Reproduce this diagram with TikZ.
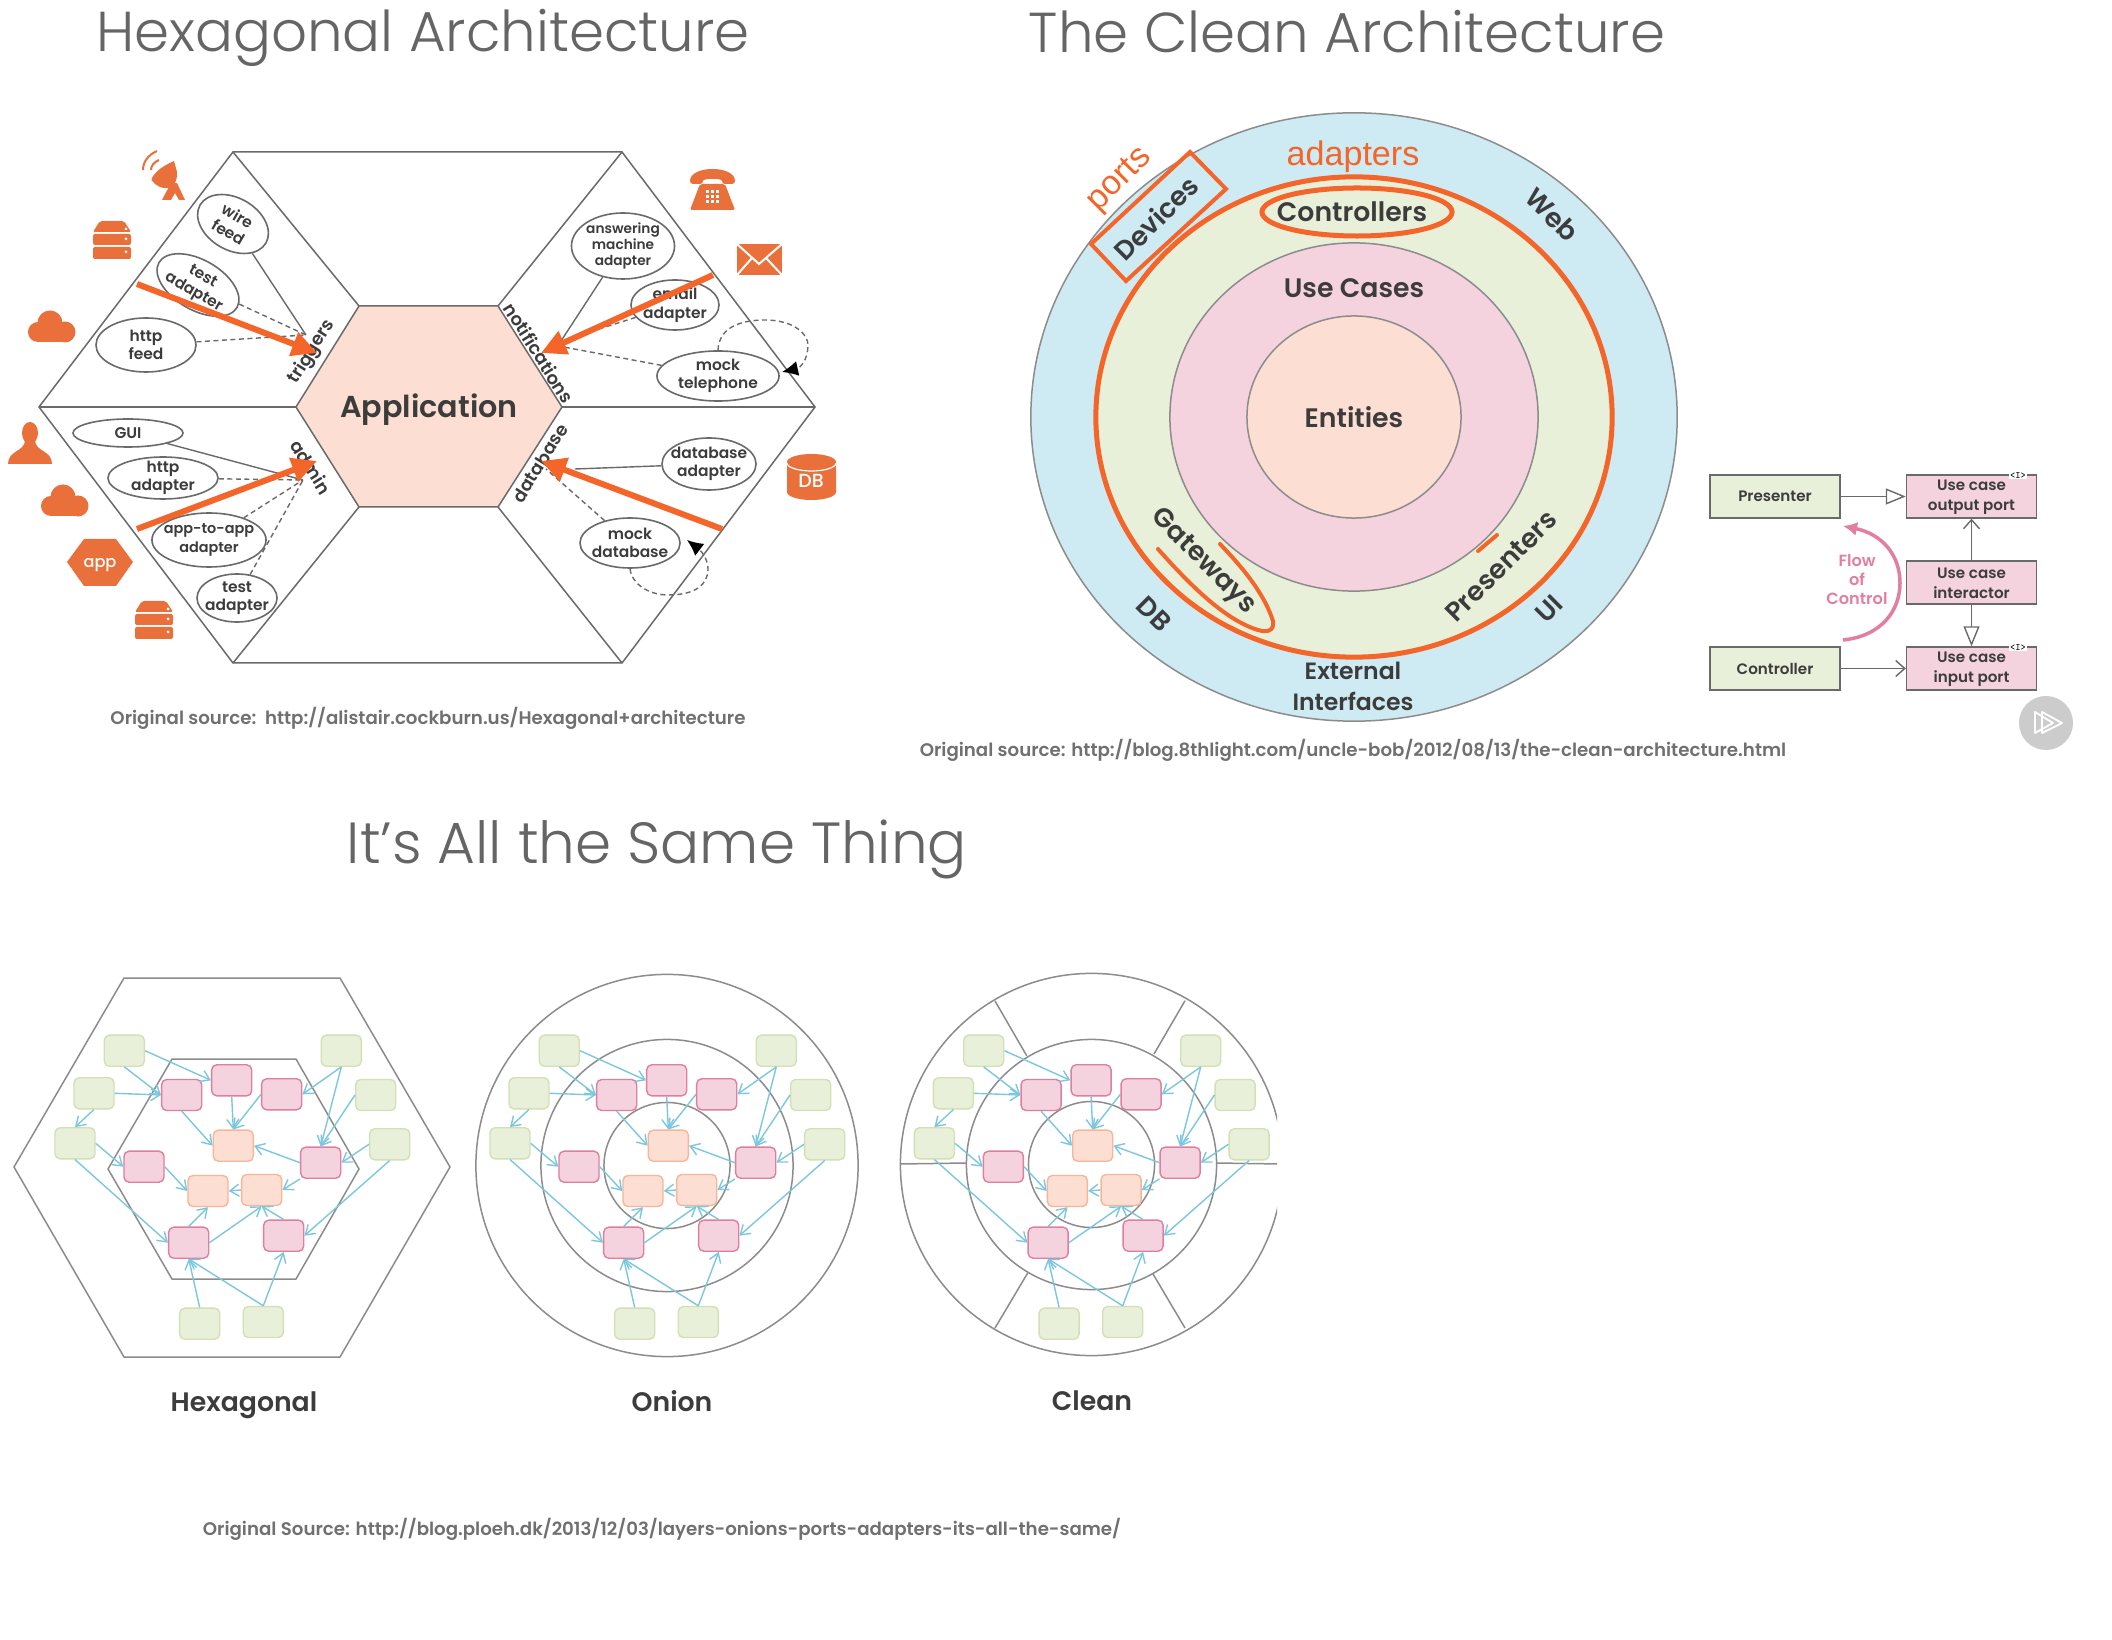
\documentclass[tikz,border=0pt]{standalone}
\usepackage{fontspec}
\setmainfont{Poppins}[UprightFont=* Medium, BoldFont=* SemiBold]
\newfontfamily\titlefont{Poppins}[UprightFont=* Light]
\newfontfamily\arialfont{Liberation Sans}
\usetikzlibrary{arrows.meta}
\usetikzlibrary{shapes.geometric}
\definecolor{icono}{HTML}{E9703A}
\definecolor{hotline}{HTML}{F4652A}
\definecolor{inkdark}{HTML}{3C3C3C}
\definecolor{inkgrey}{HTML}{707070}
\definecolor{wirefg}{HTML}{6A6A6A}
\definecolor{ringline}{HTML}{8C8C8C}
\definecolor{coreo}{HTML}{FCDFD2}
\definecolor{gfill}{HTML}{E9F0DA}
\definecolor{gline}{HTML}{D3E0B4}
\definecolor{pfill}{HTML}{F4D3DF}
\definecolor{pline}{HTML}{DD7F9F}
\definecolor{ofill}{HTML}{FCDFD2}
\definecolor{oline}{HTML}{F5B797}
\definecolor{skyfill}{HTML}{CEEAF3}
\definecolor{arrowsky}{HTML}{7CC7DF}
\definecolor{flowpink}{HTML}{E27F9F}
\tikzstyle{bigtitle}=[font=\titlefont\fontsize{16}{18}\selectfont, text=inkgrey!90!black]
\tikzstyle{source}=[font=\bfseries\fontsize{5.18}{6}\selectfont, text=inkgrey]
\tikzstyle{port}=[ellipse, draw=wirefg, line width=.016cm, fill=white, inner sep=-.06cm,
                    align=center, text=inkdark, font=\bfseries\fontsize{4.4}{5.2}\selectfont]
\tikzstyle{side}=[font=\bfseries\fontsize{5.1}{6}\selectfont, text=inkdark]
\tikzstyle{wire}=[draw=wirefg, line width=.014cm]
\tikzstyle{dwire}=[draw=wirefg, line width=.014cm, dash pattern=on .05cm off .035cm]
\tikzstyle{hot}=[draw=hotline, line width=.06cm, -{Triangle[length=.25cm,width=.24cm]}]
\tikzstyle{ring}=[draw=ringline, line width=.015cm]
\tikzstyle{edgeo}=[draw=hotline, line width=.05cm]
\tikzstyle{layer}=[font=\bfseries\fontsize{7.6}{9}\selectfont, text=inkdark]
\tikzstyle{umlg}=[rectangle, draw=wirefg, line width=.014cm, fill=gfill, minimum width=1.3cm,
                    minimum height=.43cm, align=center, inner sep=0pt, text=inkdark,
                    font=\bfseries\fontsize{4.3}{5.6}\selectfont]
\tikzstyle{umlp}=[umlg, fill=pfill, execute at begin node={\rule{0pt}{9pt}}]
\tikzstyle{gbox}=[rectangle, rounded corners=.05cm, draw=gline, line width=.014cm, fill=gfill,
                    minimum width=.4cm, minimum height=.31cm]
\tikzstyle{pbox}=[gbox, draw=pline, fill=pfill]
\tikzstyle{obox}=[gbox, draw=oline, fill=ofill]
\tikzstyle{flow}=[draw=arrowsky, line width=.014cm, -{Straight Barb[length=.09cm,width=.12cm]}]
\tikzstyle{capt}=[font=\bfseries\fontsize{7.6}{9}\selectfont, text=inkdark]
\newcommand{\archgraph}{
    \foreach \nm/\px/\py in {g1/124.3/1050.7, g2/94/1093.3, g3/75/1143.3, g4/341.3/1050.7,
          g5/375.7/1095, g6/389.7/1144.3, g7/199.7/1323.7, g8/263.3/1322}
      \node[gbox] (\nm) at (\px,\py) {};
    \foreach \nm/\px/\py in {p1/181.7/1095, p2/231.7/1080.3, p3/281.7/1094.3, p4/144/1166.7,
          p5/320.7/1162.7, p6/188.7/1242.7, p7/283.7/1235.7}
      \node[pbox] (\nm) at (\px,\py) {};
    \foreach \nm/\px/\py in {o1/233.3/1145.7, o2/208/1191, o3/261.7/1190}
      \node[obox] (\nm) at (\px,\py) {};
    \foreach \from/\to in {g1.east/p2.west, g1.south/p1.west, g2.east/p1.west, g2.south/g3.north,
          g3.east/p4.west, g3.south/p6.west, p1.south/o1.west, p2.south/o1.north,
          p3.west/o1.north, p4.east/o2.west, p5.west/o1.east, p5.south west/o3.east,
          o3.west/o2.east, p6.north/o2.south, p6.east/o3.south, p7.north/o3.south,
          g4.south/p3.east, g4.south/p5.north, g5.west/p5.north, g6.west/p5.east,
          g6.south/p7.east, g7.north/p6.south, g8.north/p6.south, g8.north/p7.south}
      \draw[flow] (\from) -- (\to);
}
\begin{document}
\begin{tikzpicture}[x=.01cm, y=-.01cm]
    \useasboundingbox[fill=white] (0,0) rectangle (2112,1640);
    \node[bigtitle] (title1) at (423,38) {Hexagonal Architecture};
    \node[bigtitle] (title2) at (1347,32) {The Clean Architecture};
    \node[bigtitle, font=\titlefont\fontsize{16.5}{18}\selectfont] (title3) at (657,849) {It’s All the Same Thing};
    \node[source] (src1) at (428,718) {Original source:\ \ http://alistair.cockburn.us/Hexagonal+architecture};
    \node[source] (src2) at (1353,750) {Original source: http://blog.8thlight.com/uncle-bob/2012/08/13/the-clean-architecture.html};
    \node[source] (src3) at (662,1529) {Original Source: http://blog.ploeh.dk/2013/12/03/layers-onions-ports-adapters-its-all-the-same/};
    % hexagonal, big one
    \foreach \nm/\px/\py in {a1/233/152, a2/622/152, a3/815/407, a4/622/663, a5/233/663, a6/39/407,
          b1/359/306, b2/498/306, b3/562/407, b4/498/507, b5/359/507, b6/296/407}
      \coordinate (\nm) at (\px,\py);
    \draw[ring, draw=wirefg] (a1) -- (a2) -- (a3) -- (a4) -- (a5) -- (a6) -- cycle;
    \foreach \to/\from in {a1/b1, a2/b2, a3/b3, a4/b4, a5/b5, a6/b6}
      \draw[ring, draw=wirefg] (\to) -- (\from);
    \draw[ring, draw=wirefg, fill=coreo] (b1) -- (b2) -- (b3) -- (b4) -- (b5) -- (b6) -- cycle;
    \node[font=\bfseries\fontsize{8.6}{10}\selectfont, text=inkdark] (app) at (429,410) {Application};
    \coordinate (hubt) at (306,335);
    \coordinate (hubn) at (561,341);
    \coordinate (hubn2) at (553,345);
    \coordinate (huba) at (303,480);
    \coordinate (hubd) at (575,469);
    \coordinate (hubd2) at (546,469);
    \node[port, minimum width=.76cm, minimum height=.52cm, rotate=-30] (wirefeed) at (233,224) {wire\\feed};
    \node[port, minimum width=.9cm, minimum height=.5cm, rotate=-30] (testa) at (198,285) {test\\adapter};
    \node[port, minimum width=1cm, minimum height=.54cm] (httpf) at (146,345) {http\\feed};
    \node[port, minimum width=1.03cm, minimum height=.66cm, font=\bfseries\fontsize{3.9}{4.6}\selectfont] (answer) at (623,246) {answering\\machine\\adapter};
    \node[port, minimum width=.88cm, minimum height=.5cm] (email) at (675,305) {email\\adapter};
    \node[port, minimum width=1.22cm, minimum height=.5cm] (mocktel) at (718,376) {mock\\telephone};
    \node[port, minimum width=1.1cm, minimum height=.28cm] (gui) at (128,433) {GUI};
    \node[port, minimum width=1.1cm, minimum height=.42cm] (httpa) at (163,478) {http\\adapter};
    \node[port, minimum width=1.14cm, minimum height=.54cm, font=\bfseries\fontsize{4.1}{5.2}\selectfont] (appapp) at (209,540) {app-to-app\\adapter};
    \node[port, minimum width=.8cm, minimum height=.48cm] (testb) at (237,598) {test\\adapter};
    \node[port, minimum width=.94cm, minimum height=.52cm] (dba) at (709,464) {database\\adapter};
    \node[port, minimum width=1cm, minimum height=.5cm] (mockdb) at (630,543) {mock\\database};
    \foreach \to/\from in {wirefeed/hubt, answer/hubn, gui/huba, dba/hubd}
      \draw[wire] (\to) -- (\from);
    \foreach \to/\from in {testa/hubt, httpf/hubt, email/hubn, mocktel/hubn2, httpa/huba,
          appapp/huba, testb/huba, mockdb/hubd2}
      \draw[dwire] (\to) -- (\from);
    \draw[dwire, -{Latex[black,length=.16cm,width=.15cm]}] (mocktel.north) .. controls (719,325) and (745,320) .. (765,320)
      .. controls (795,320) and (808,335) .. (808,345) .. controls (808,360) and (800,368) .. (782,372);
    \draw[dwire, -{Latex[black,length=.16cm,width=.15cm]}] (mockdb.south) .. controls (632,585) and (650,595) .. (668,595)
      .. controls (695,595) and (708,585) .. (708,569) .. controls (708,558) and (700,550) .. (687,540);
    \node[side, rotate=58] (ltrig) at (312,352) {triggers};
    \node[side, rotate=-58] (lnotif) at (539,353) {notifications};
    \node[side, rotate=-58] (ladmin) at (311,467) {admin};
    \node[side, rotate=58] (ldb) at (540,463) {database};
    \coordinate (h1) at (137,284);
    \coordinate (h2) at (713,275);
    \coordinate (h3) at (137,529);
    \coordinate (h4) at (722,529);
    \coordinate (t1) at (317,353);
    \coordinate (t2) at (541,353);
    \coordinate (t3) at (317,461);
    \coordinate (t4) at (541,461);
    \foreach \to/\from in {h1/t1, h2/t2, h3/t3, h4/t4}
      \draw[hot] (\to) -- (\from);
    % icons
    \foreach \px/\py in {112/240, 154/620} {
      \begin{scope}[shift={(\px,\py)}]
        \fill[icono, rounded corners=.02cm] (-19,-8) -- (-12,-19) -- (12,-19) -- (19,-8) -- cycle;
        \fill[icono, rounded corners=.02cm] (-19,-6) rectangle (19,5);
        \fill[icono, rounded corners=.02cm] (-19,7) rectangle (19,19);
        \foreach \dy in {-11,-1,12}
          \fill[white] (14,\dy) circle (.015cm);
      \end{scope}
    }
    \foreach \px/\py in {52/327, 65/501} {
      \begin{scope}[shift={(\px,\py)}]
        \fill[icono] (-14,5) circle (.1cm);
        \fill[icono] (-2,-4) circle (.125cm);
        \fill[icono] (13,5) circle (.105cm);
        \fill[icono] (-14,0) rectangle (13,15.5);
      \end{scope}
    }
    \fill[icono] (30,433) ellipse [x radius=.08cm, y radius=.11cm];
    \fill[icono] (25,440) -- (35,440) .. controls (35,452) and (52,450) .. (52,464) -- (8,464)
      .. controls (8,450) and (25,452) .. (25,440) -- cycle;
    \fill[icono] (67,562) -- (84,539) -- (116,539) -- (133,562) -- (116,586) -- (84,586) -- cycle;
    \node[font=\fontsize{4.6}{5}\selectfont, text=white] (appicon) at (100,565) {app};
    % satellite
    \fill[icono] (174,161) .. controls (160,167) and (152,175) .. (151.5,180) .. controls (160,192) and (178,192) .. (177,172) -- cycle;
    \fill[icono] (162,200) -- (171,183) -- (177,183) -- (185,200) -- (179,200) -- (175,193) -- (171,200) -- cycle;
    \draw[icono, line width=.02cm] (143,170) .. controls (143,162) and (148,155) .. (157,151);
    \draw[icono, line width=.02cm] (151,170) .. controls (151,166) and (154,162) .. (159,160);
    % telephone
    \fill[icono, rounded corners=.03cm] (690,184) .. controls (690,165) and (735,165) .. (735,184) -- (722,184)
      .. controls (722,178) and (703,178) .. (703,184) -- cycle;
    \fill[icono, rounded corners=.02cm] (700,184) -- (725,184) -- (735,210) -- (690,210) -- cycle;
    \foreach \dx in {706,711,716}
      \foreach \dy in {190,195,200}
        \fill[white] (\dx,\dy) rectangle ++(3,3);
    % mail
    \fill[icono] (737,244) rectangle (782,275);
    \draw[white, line width=.02cm] (737,244) -- (759,264) -- (782,244);
    \draw[white, line width=.02cm] (737,275) -- (752,258);
    \draw[white, line width=.02cm] (782,275) -- (766,258);
    % db drum
    \fill[icono] (787,462) -- (787,492) arc (180:360:.245cm and .08cm) -- (836,462) arc (0:180:.245cm and .08cm) -- cycle;
    \draw[white, line width=.012cm] (787,463) arc (180:360:.245cm and .08cm);
    \node[font=\fontsize{5.4}{6}\selectfont, text=white] (dbicon) at (811,481) {DB};
    % clean
    \node[ellipse, draw=ringline, line width=.015cm, fill=skyfill, minimum width=6.46cm, minimum height=6.08cm] (cweb) at (1354,417) {};
    \node[ellipse, draw=hotline, line width=.05cm, fill=gfill, minimum width=5.16cm, minimum height=4.8cm] (cuse) at (1354,417) {};
    \node[ellipse, draw=ringline, line width=.015cm, fill=pfill, minimum width=3.68cm, minimum height=3.48cm] (cmid) at (1354,417) {};
    \node[ellipse, draw=ringline, line width=.015cm, fill=coreo, minimum width=2.14cm, minimum height=2.02cm] (ccore) at (1354,417) {};
    \node[layer] (lent) at (1354,417) {Entities};
    \node[layer] (luse) at (1354,288) {Use Cases};
    \node[layer] (lctrl) at (1352,212) {Controllers};
    \node[ellipse, edgeo, minimum width=1.9cm, minimum height=.48cm] (ectrl) at (1357,212) {};
    \node[layer, rotate=45] (ldev) at (1156,218) {Devices};
    \coordinate (dv1) at (1190,152);
    \coordinate (dv2) at (1226,189);
    \coordinate (dv3) at (1126,281);
    \coordinate (dv4) at (1091,244);
    \draw[edgeo, line width=.04cm] (dv1) -- (dv2) -- (dv3) -- (dv4) -- cycle;
    \node[font=\arialfont\fontsize{9.7}{10}\selectfont, text=hotline, rotate=45] (lports) at (1120,180) {ports};
    \node[font=\arialfont\fontsize{9.7}{10}\selectfont, text=hotline] (ladapt) at (1353,157) {adapters};
    \node[layer, rotate=-45] (lweb) at (1552,215) {Web};
    \node[layer, rotate=-45] (lgate) at (1203,562) {Gateways};
    \node[layer, rotate=45] (lpres) at (1501,566) {Presenters};
    \node[layer, rotate=-45] (ldbr) at (1154,614) {DB};
    \node[layer, rotate=45] (lui) at (1549,609) {UI};
    \node[layer, font=\bfseries\fontsize{6.7}{8}\selectfont] (lext1) at (1353,671) {External};
    \node[layer, font=\bfseries\fontsize{6.7}{8}\selectfont] (lext2) at (1353,701) {Interfaces};
    \draw[edgeo, line width=.04cm, line cap=round] (1158,549) .. controls (1190,585) and (1225,620) .. (1258,630)
      .. controls (1270,634) and (1276,628) .. (1272,618) .. controls (1262,590) and (1240,565) .. (1220,544);
    \draw[edgeo, line width=.04cm, line cap=round] (1478,551) -- (1497,535);
    % uml
    \node[umlg] (pres) at (1775,496.5) {Presenter};
    \node[umlg] (ctrl) at (1775,668.5) {Controller};
    \node[umlp] (outp) at (1971.5,496.5) {Use case\\output port};
    \node[umlp] (intr) at (1971.5,582.5) {Use case\\interactor};
    \node[umlp] (inp) at (1971.5,668.5) {Use case\\input port};
    \draw[wire, -{Triangle[open,fill=white,length=.2cm,width=.16cm]}] (pres) -- (outp);
    \draw[wire, -{Straight Barb[length=.09cm,width=.16cm]}] (ctrl) -- (inp);
    \draw[wire, -{Straight Barb[length=.09cm,width=.16cm]}] (intr) -- (outp);
    \draw[wire, -{Triangle[open,fill=white,length=.2cm,width=.16cm]}] (intr) -- (inp);
    \node[fill=white, inner sep=.3pt, font=\ttfamily\fontsize{2.8}{3}\selectfont] (iface1) at (2018,475) {<I>};
    \node[fill=white, inner sep=.3pt, font=\ttfamily\fontsize{2.8}{3}\selectfont] (iface2) at (2018,647) {<I>};
    \coordinate (fl0) at (1843,640);
    \coordinate (fl1) at (1843,526);
    \draw[draw=flowpink, line width=.035cm, -{Latex[length=.14cm,width=.14cm]}] (fl0) .. controls (1882,636) and (1900,610) .. (1900,583)
      .. controls (1900,555) and (1882,534) .. (fl1);
    \node[align=center, text=flowpink, font=\bfseries\fontsize{4.6}{5.4}\selectfont] (lflow) at (1857,580) {Flow\\of\\Control};
    \node[circle, fill=black!20, minimum size=.54cm, inner sep=0pt] (playbtn) at (2046,723) {};
    \draw[white, line width=.018cm, line join=round] (2035,712) -- (2053,723) -- (2035,733) -- cycle;
    \draw[white, line width=.018cm, line join=round] (2042,712) -- (2062,723) -- (2042,733) -- cycle;
    % the same thing
    \draw[ring] (124,978) -- (340,978) -- (450,1167) -- (340,1357) -- (124,1357) -- (14,1167) -- cycle;
    \draw[ring] (172,1059) -- (296,1059) -- (359,1169) -- (296,1279) -- (172,1279) -- (108,1169) -- cycle;
    \begin{scope}[name prefix=h-]
      \archgraph
    \end{scope}
    \node[capt] (caph) at (244,1405) {Hexagonal};
    \foreach \rr/\nm in {1.91/o3, 1.26/o2, .63/o1}
      \node[circle, ring, minimum size=2*\rr cm, inner sep=0pt] (ring\nm) at (667,1165.5) {};
    \begin{scope}[shift={(435,0)}, name prefix=n-]
      \archgraph
    \end{scope}
    \node[capt] (capn) at (672,1401) {Onion};
    \begin{scope}
      \clip (880,960) rectangle (1277,1370);
      \foreach \rr/\nm in {1.91/c3, 1.25/c2, .63/c1}
        \node[circle, ring, minimum size=2*\rr cm, inner sep=0pt] (ring\nm) at (1091.5,1164.5) {};
      \foreach \nm/\ax/\ay/\bx/\by in {s1/995/1001/1026.7/1055.7, s2/1185/1000.7/1154/1054, s3/900.7/1164/966/1163,
            s4/1217/1163/1280/1164, s5/995/1328/1027.7/1273, s6/1185/1328/1153/1274} {
        \coordinate (\nm a) at (\ax,\ay);
        \coordinate (\nm b) at (\bx,\by);
        \draw[ring] (\nm a) -- (\nm b);
      }
    \end{scope}
    \begin{scope}[shift={(859.4,0)}, name prefix=c-]
      \archgraph
    \end{scope}
    \node[capt] (capc) at (1092,1401) {Clean};
\end{tikzpicture}
\end{document}
